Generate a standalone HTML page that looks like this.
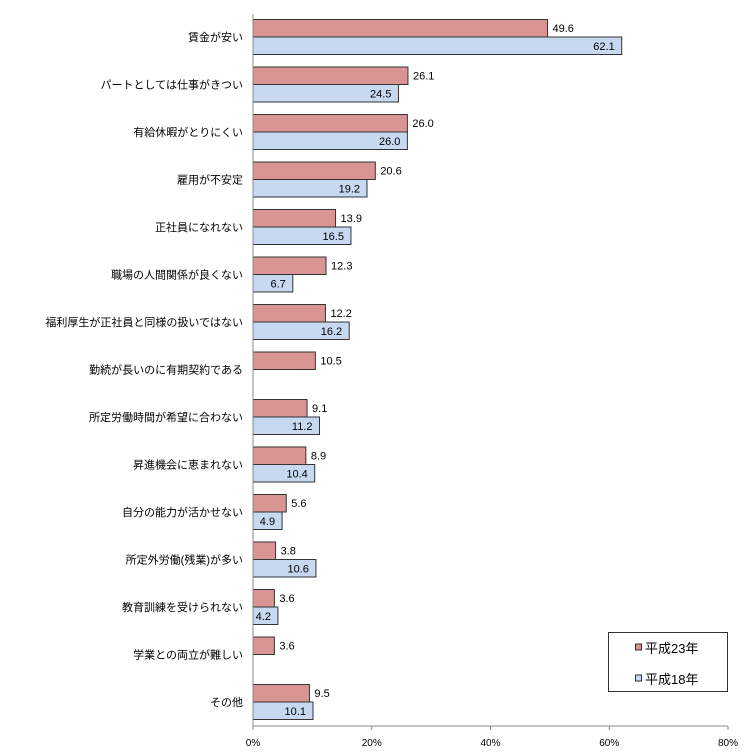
<!DOCTYPE html>
<html><head><meta charset="utf-8"><style>
body{margin:0;background:#fff;}
svg{display:block;font-family:"Liberation Sans","Noto Sans CJK JP",sans-serif;}
</style></head><body>
<svg id="c" width="750" height="755"></svg>
<script>
const categories=["賃金が安い","パートとしては仕事がきつい","有給休暇がとりにくい","雇用が不安定","正社員になれない","職場の人間関係が良くない","福利厚生が正社員と同様の扱いではない","勤続が長いのに有期契約である","所定労働時間が希望に合わない","昇進機会に恵まれない","自分の能力が活かせない","所定外労働(残業)が多い","教育訓練を受けられない","学業との両立が難しい","その他"];
const h23=[49.6,26.1,26.0,20.6,13.9,12.3,12.2,10.5,9.1,8.9,5.6,3.8,3.6,3.6,9.5];
const h18=[62.1,24.5,26.0,19.2,16.5,6.7,16.2,null,11.2,10.4,4.9,10.6,4.2,null,10.1];
const ticks=[0,20,40,60,80];
const svg=document.getElementById('c');const NS='http://www.w3.org/2000/svg';
function mk(t,a,p){const e=document.createElementNS(NS,t);for(const k in a)e.setAttribute(k,a[k]);(p||svg).appendChild(e);return e;}
const x0=253,x1=728,yTop=14,yBot=726;
const xs=v=>x0+(x1-x0)*v/80;
const rc=i=>37+i*(702-37)/14;
const bh=17.5;
let e;
ticks.forEach(t=>{
e=mk('line',{x1:xs(t),x2:xs(t),y1:yBot,y2:yBot+4,stroke:'#888'});


e=mk('text',{x:xs(t),y:746,'font-size':10,'text-anchor':'middle',fill:'#000'});e.textContent=t+'%';


});
categories.forEach((c,i)=>{
const y=rc(i);
e=mk('text',{x:243,y:y+4,'font-size':11,'text-anchor':'end',fill:'#000'});e.textContent=c;


if(h23[i]!=null){
e=mk('rect',{x:x0,y:y-bh,width:xs(h23[i])-x0,height:bh,fill:'#d99594',stroke:'#333','stroke-width':1});


e=mk('text',{x:xs(h23[i])+5,y:y-5,'font-size':11,fill:'#000'});e.textContent=h23[i].toFixed(1);


}
if(h18[i]!=null){
e=mk('rect',{x:x0,y:y,width:xs(h18[i])-x0,height:bh,fill:'#c6d9f0',stroke:'#333','stroke-width':1});


e=mk('text',{x:xs(h18[i])-7,y:y+13,'font-size':11,'text-anchor':'end',fill:'#000'});e.textContent=h18[i].toFixed(1);


}
});
e=mk('line',{x1:x0,x2:x0,y1:yTop,y2:yBot,stroke:'#888'});


e=mk('line',{x1:x0,x2:x1,y1:yBot,y2:yBot,stroke:'#888'});


const g=mk('g',{});


mk('rect',{x:608.5,y:632.5,width:119,height:59,fill:'#fff',stroke:'#333'},g);
[['平成23年','#d99594',648],['平成18年','#c6d9f0',679]].forEach(([t,col,y])=>{
e=mk('rect',{x:635.5,y:y-4,width:6,height:6,fill:col,stroke:'#333'},g);


e=mk('text',{x:645,y:y+5,'font-size':13,fill:'#000'},g);e.textContent=t;


});
</script>
</body></html>
